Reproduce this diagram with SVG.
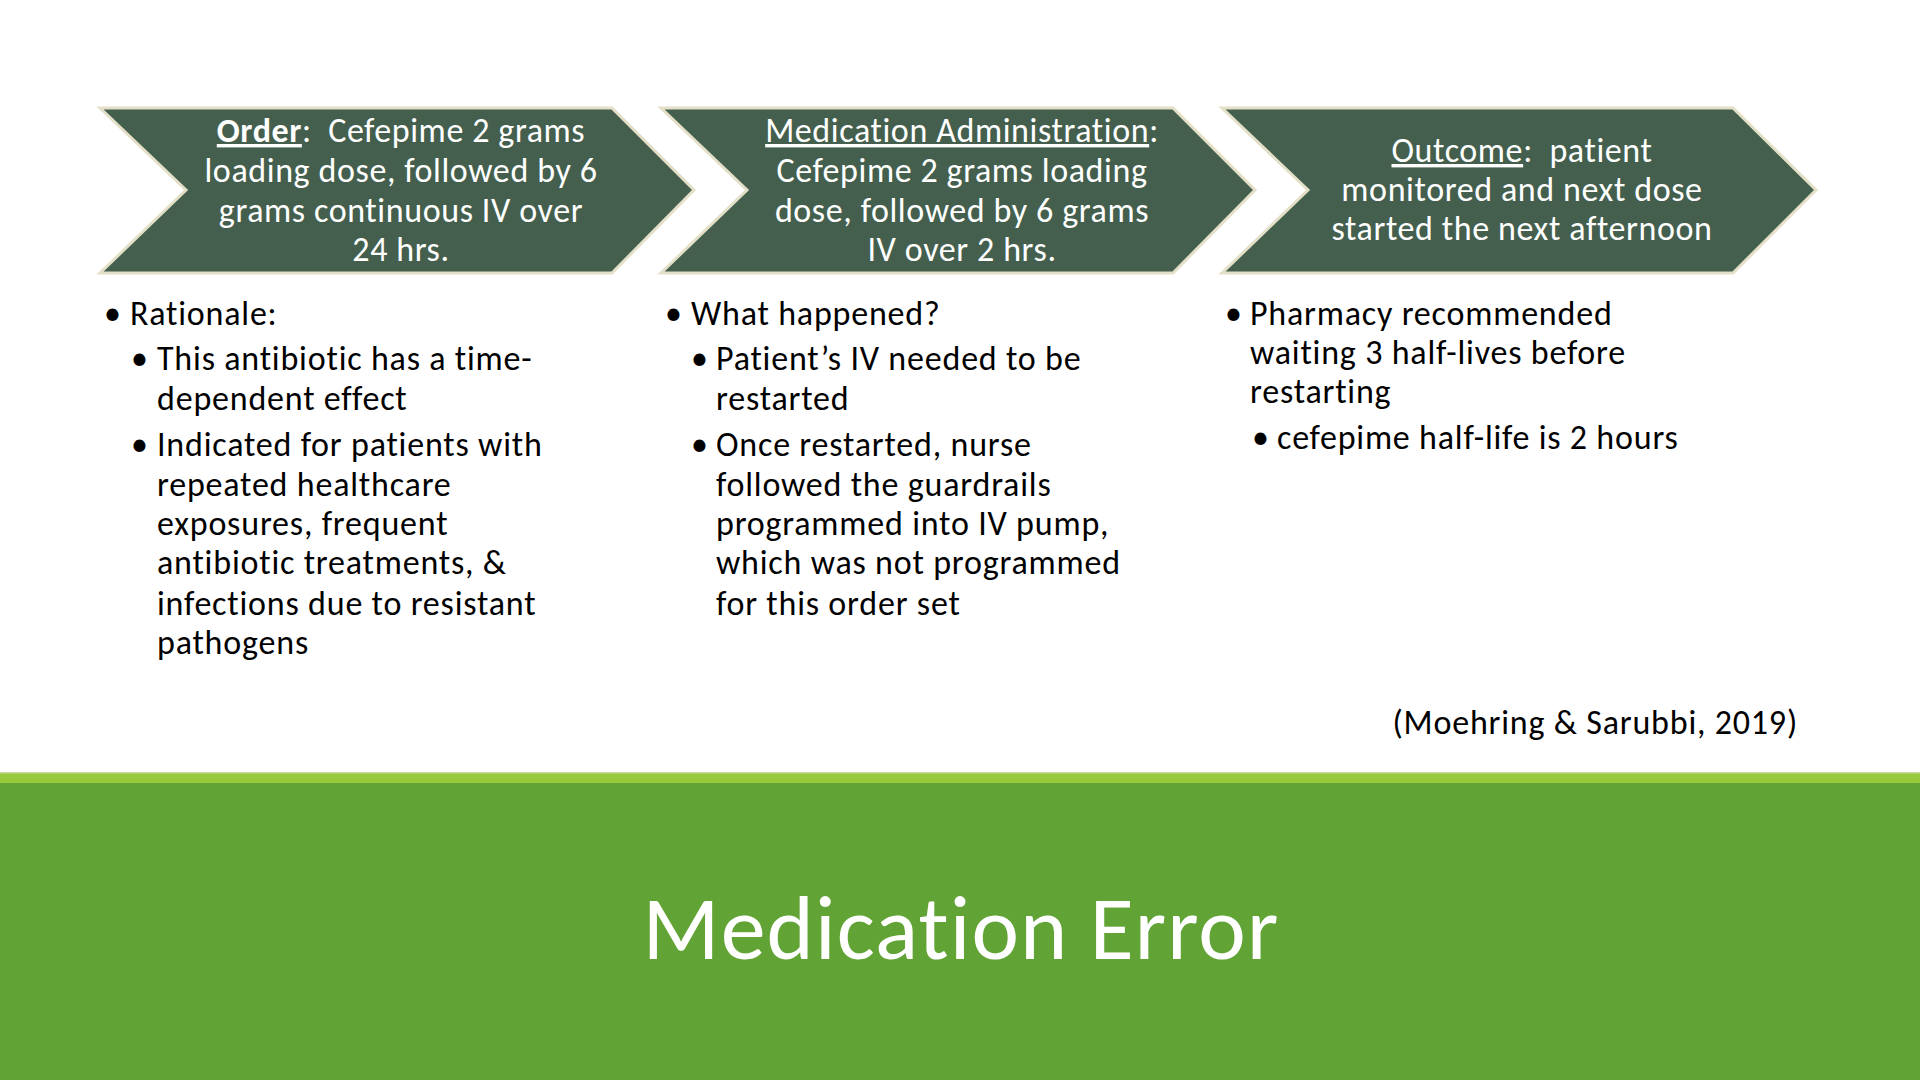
<svg xmlns="http://www.w3.org/2000/svg" width="1920" height="1080" viewBox="0 0 1920 1080">
<style>
.chev{fill:#445f4e;stroke:#e4e0c8;stroke-width:3;stroke-linejoin:miter}
.ct{font-family:Carlito,Calibri,Lato,"Liberation Sans",sans-serif;font-size:34px;letter-spacing:0.6px;fill:#ffffff;text-anchor:middle}
.bt{font-family:Carlito,Calibri,Lato,"Liberation Sans",sans-serif;font-size:34px;letter-spacing:0.8px;fill:#000000}
.ul{text-decoration:underline}
.title{font-family:Carlito,Calibri,Lato,"Liberation Sans",sans-serif;font-weight:300;font-size:90px;letter-spacing:1.1px;fill:#ffffff;text-anchor:middle}
</style>
<rect x="0" y="0" width="1920" height="1080" fill="#ffffff"/>
<g id="connectors"></g>
<g id="node-order">
<polygon class="chev" points="100,108 612,108 694,190 612,273 100,273 186,190"/>
<text class="ct" xml:space="preserve"><tspan x="401" y="142"><tspan font-weight="bold" class="ul">Order</tspan>:  Cefepime 2 grams</tspan><tspan x="401" y="182">loading dose, followed by 6</tspan><tspan x="401" y="222">grams continuous IV over</tspan><tspan x="401" y="261">24 hrs.</tspan></text>
</g>
<g id="node-administration">
<polygon class="chev" points="661,108 1173,108 1255,190 1173,273 661,273 747,190"/>
<text class="ct" xml:space="preserve"><tspan x="962" y="142"><tspan class="ul">Medication Administration</tspan>:</tspan><tspan x="962" y="182">Cefepime 2 grams loading</tspan><tspan x="962" y="222">dose, followed by 6 grams</tspan><tspan x="962" y="261">IV over 2 hrs.</tspan></text>
</g>
<g id="node-outcome">
<polygon class="chev" points="1222,108 1733,108 1816,190 1733,273 1222,273 1308,190"/>
<text class="ct" xml:space="preserve"><tspan x="1522" y="162"><tspan class="ul">Outcome</tspan>:  patient</tspan><tspan x="1522" y="201">monitored and next dose</tspan><tspan x="1522" y="240">started the next afternoon</tspan></text>
</g>
<g id="notes-rationale" class="bt">
<text x="104" y="325">•</text><text x="130" y="325">Rationale:</text>
<text x="131" y="370">•</text><text x="157" y="370">This antibiotic has a time-</text>
<text x="157" y="410">dependent effect</text>
<text x="131" y="456">•</text><text x="157" y="456">Indicated for patients with</text>
<text x="157" y="496">repeated healthcare</text>
<text x="157" y="535">exposures, frequent</text>
<text x="157" y="574">antibiotic treatments, &amp;</text>
<text x="157" y="615">infections due to resistant</text>
<text x="157" y="654">pathogens</text>
</g>
<g id="notes-what-happened" class="bt">
<text x="665" y="325">•</text><text x="691" y="325">What happened?</text>
<text x="691" y="370">•</text><text x="716" y="370">Patient’s IV needed to be</text>
<text x="716" y="410">restarted</text>
<text x="691" y="456">•</text><text x="716" y="456">Once restarted, nurse</text>
<text x="716" y="496">followed the guardrails</text>
<text x="716" y="535">programmed into IV pump,</text>
<text x="716" y="574">which was not programmed</text>
<text x="716" y="615">for this order set</text>
</g>
<g id="notes-outcome" class="bt">
<text x="1225" y="325">•</text><text x="1250" y="325">Pharmacy recommended</text>
<text x="1250" y="364">waiting 3 half-lives before</text>
<text x="1250" y="403">restarting</text>
<text x="1252" y="449">•</text><text x="1277" y="449">cefepime half-life is 2 hours</text>
</g>
<text class="bt" x="1798" y="734" text-anchor="end">(Moehring &amp; Sarubbi, 2019)</text>
<g id="banner">
<rect x="0" y="772" width="1920" height="11" fill="#97c93c"/>
<rect x="0" y="772" width="1920" height="1.5" fill="#c7dd9e"/>
<rect x="0" y="783" width="1920" height="297" fill="#62a336"/>
<text class="title" x="961" y="959">Medication Error</text>
</g>
</svg>
